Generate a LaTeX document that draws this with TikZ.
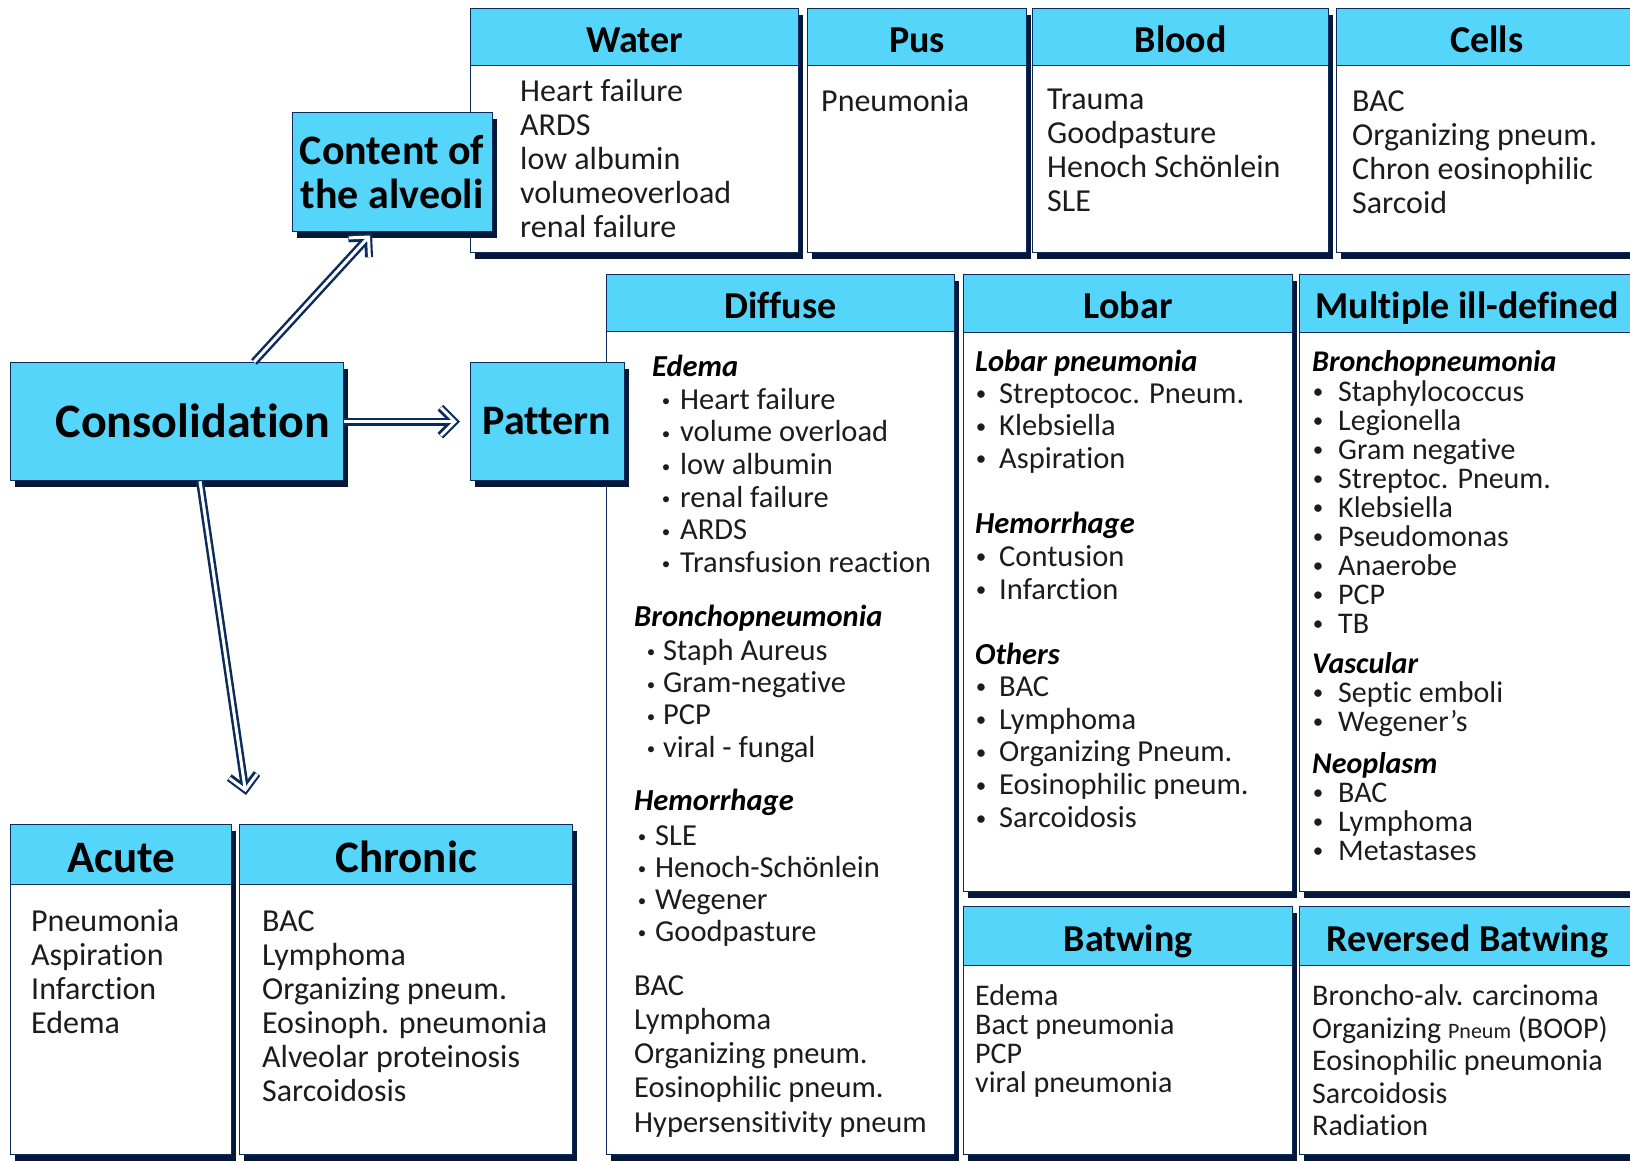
\documentclass[tikz,border=0pt]{standalone}
\usepackage{fontspec}
\setmainfont{Carlito}[Ligatures=NoCommon]
\usetikzlibrary{arrows.meta,shadows,calc}
\definecolor{hdcol}{HTML}{55D5FA}
\definecolor{navy}{HTML}{0B2B5C}
\definecolor{shd}{HTML}{06183A}
\definecolor{txt}{HTML}{1C1C1C}
\tikzset{
 panel/.style={draw=navy, line width=1.3pt, fill=white, anchor=north west, inner sep=0pt,
   drop shadow={shadow xshift=4pt, shadow yshift=-6pt, fill=shd, opacity=1}},
 head/.style={draw=navy, line width=1.3pt, fill=hdcol, anchor=north west, inner sep=0pt,
   font=\bfseries\fontsize{38}{40}\selectfont, text=black, text height=33pt, text depth=2.6pt},
 bighead/.style={head, font=\bfseries\fontsize{45}{48}\selectfont, text height=40pt, text depth=3.8pt},
 tA/.style={anchor=mid west, inner sep=0pt, yshift=-8pt, text=txt, font=\fontsize{32}{34}\selectfont},
 tB/.style={anchor=mid west, inner sep=0pt, yshift=-8pt, text=txt, font=\fontsize{30.5}{32}\selectfont},
 tC/.style={anchor=mid west, inner sep=0pt, yshift=-8pt, text=txt, font=\fontsize{30}{32}\selectfont},
 hB/.style={tB, text=black, font=\bfseries\itshape\fontsize{30.5}{32}\selectfont},
 hC/.style={tC, text=black, font=\bfseries\itshape\fontsize{30}{32}\selectfont},
 bulS/.style={anchor=mid, inner sep=0pt, yshift=-5.5pt, text=txt, font=\fontsize{17}{17}\selectfont},
 bulL/.style={anchor=mid, inner sep=0pt, yshift=-5.5pt, text=txt, font=\fontsize{21}{21}\selectfont},
 arrO/.style={draw=navy, line width=8pt, -{Straight Barb[length=14pt,width=28pt]}},
 arrI/.style={draw=white, line width=3pt, shorten >=3pt, -{Straight Barb[length=14pt,width=28pt]}},
}
\begin{document}
\begin{tikzpicture}[x=1pt,y=-1pt]
\useasboundingbox (0,0) rectangle (1630,1161);

% ---------- top row ----------
\node[panel, minimum width=328pt, minimum height=244pt] (water) at (470,8) {};
\node[head, minimum width=328pt, minimum height=57pt] (waterh) at (470,8) {Water};
\node[panel, minimum width=219pt, minimum height=244pt] (pus) at (807,8) {};
\node[head, minimum width=219pt, minimum height=57pt] (push) at (807,8) {Pus};
\node[panel, minimum width=296pt, minimum height=244pt] (blood) at (1032,8) {};
\node[head, minimum width=296pt, minimum height=57pt] (bloodh) at (1032,8) {Blood};
\node[panel, minimum width=300pt, minimum height=244pt] (cells) at (1336,8) {};
\node[head, minimum width=300pt, minimum height=57pt] (cellsh) at (1336,8) {Cells};

\foreach \t [count=\i from 0] in {Heart failure, ARDS, low albumin, volumeoverload, renal failure}
  \node[tA] (wa\i) at (520,{91+34*\i}) {\t};
\node[tA] (pu0) at (821,101) {Pneumonia};
\foreach \t [count=\i from 0] in {Trauma, Goodpasture, Henoch Schönlein, SLE}
  \node[tA] (bl\i) at (1047,{99+34*\i}) {\t};
\foreach \t [count=\i from 0] in {BAC, Organizing pneum., Chron eosinophilic, Sarcoid}
  \node[tA] (ce\i) at (1352,{101+34*\i}) {\t};

% ---------- Content / Consolidation ----------
\node[panel, fill=hdcol, minimum width=200pt, minimum height=119pt] (content) at (292,112) {};
\node[align=center, font=\bfseries\fontsize{42}{44}\selectfont] (contentlbl) at (392,172) {Content of\\the alveoli};
\node[panel, fill=hdcol, minimum width=333pt, minimum height=118pt] (cons) at (10,362) {};
\node[font=\bfseries\fontsize{48}{50}\selectfont] (conslbl) at (193,421) {Consolidation};

% ---------- Diffuse ----------
\node[panel, minimum width=348pt, minimum height=880pt] (diff) at (606,274) {};
\node[head, minimum width=348pt, minimum height=57pt] (diffh) at (606,274) {Diffuse};
\node[hB] (de) at (652,366) {Edema};
\foreach \t [count=\i from 0] in {Heart failure, volume overload, low albumin, renal failure, ARDS, Transfusion reaction}{
  \node[bulS] (deb\i) at (666,{399+32.6*\i}) {•};
  \node[tB] (det\i) at (680,{399+32.6*\i}) {\t};}
\node[hB] (dbr) at (634,616) {Bronchopneumonia};
\foreach \t [count=\i from 0] in {Staph Aureus, Gram-negative, PCP, viral - fungal}{
  \node[bulS] (dbb\i) at (651,{650+32.3*\i}) {•};
  \node[tB] (dbt\i) at (663,{650+32.3*\i}) {\t};}
\node[hB] (dhe) at (634,800) {Hemorrhage};
\foreach \t [count=\i from 0] in {SLE, Henoch-Schönlein, Wegener, Goodpasture}{
  \node[bulS] (dhb\i) at (642,{835+32*\i}) {•};
  \node[tB] (dht\i) at (655,{835+32*\i}) {\t};}
\foreach \t [count=\i from 0] in {BAC, Lymphoma, Organizing pneum., Eosinophilic pneum., Hypersensitivity pneum}
  \node[tB] (dot\i) at (634,{985+34.2*\i}) {\t};

% ---------- Pattern (on top of Diffuse) ----------
\node[panel, fill=hdcol, minimum width=154pt, minimum height=118pt] (pattern) at (470,362) {};
\node[font=\bfseries\fontsize{42}{44}\selectfont] (patternlbl) at (547,421) {Pattern};

% ---------- Lobar ----------
\node[panel, minimum width=329pt, minimum height=617pt] (lob) at (963,274) {};
\node[head, minimum width=329pt, minimum height=58pt] (lobh) at (963,274) {Lobar};
\node[hB] (lp) at (975,361) {Lobar pneumonia};
\foreach \t [count=\i from 0] in {Streptococ. Pneum., Klebsiella, Aspiration}{
  \node[bulL] (lpb\i) at (981,{393+32.5*\i}) {•};
  \node[tB] (lpt\i) at (999,{393+32.5*\i}) {\t};}
\node[hB] (lh) at (975,523) {Hemorrhage};
\foreach \t [count=\i from 0] in {Contusion, Infarction}{
  \node[bulL] (lhb\i) at (981,{556+33*\i}) {•};
  \node[tB] (lht\i) at (999,{556+33*\i}) {\t};}
\node[hB] (lo) at (975,654) {Others};
\foreach \t [count=\i from 0] in {BAC, Lymphoma, Organizing Pneum., Eosinophilic pneum., Sarcoidosis}{
  \node[bulL] (lob\i) at (981,{686+32.8*\i}) {•};
  \node[tB] (lot\i) at (999,{686+32.8*\i}) {\t};}

% ---------- Multiple ill-defined ----------
\node[panel, minimum width=335pt, minimum height=617pt] (mul) at (1299,274) {};
\node[head, minimum width=335pt, minimum height=58pt] (mulh) at (1299,274) {Multiple ill-defined};
\node[hC] (mb) at (1312,361) {Bronchopneumonia};
\foreach \t [count=\i from 0] in {Staphylococcus, Legionella, Gram negative, Streptoc. Pneum., Klebsiella, Pseudomonas, Anaerobe, PCP, TB}{
  \node[bulL] (mbb\i) at (1318,{391+29*\i}) {•};
  \node[tC] (mbt\i) at (1338,{391+29*\i}) {\t};}
\node[hC] (mv) at (1312,663) {Vascular};
\foreach \t [count=\i from 0] in {Septic emboli, Wegener's}{
  \node[bulL] (mvb\i) at (1318,{692+29*\i}) {•};
  \node[tC] (mvt\i) at (1338,{692+29*\i}) {\t};}
\node[hC] (mn) at (1312,763) {Neoplasm};
\foreach \t [count=\i from 0] in {BAC, Lymphoma, Metastases}{
  \node[bulL] (mnb\i) at (1318,{792+29*\i}) {•};
  \node[tC] (mnt\i) at (1338,{792+29*\i}) {\t};}

% ---------- Batwing / Reversed ----------
\node[panel, minimum width=329pt, minimum height=248pt] (bat) at (963,906) {};
\node[head, minimum width=329pt, minimum height=59pt] (bath) at (963,906) {Batwing};
\foreach \t [count=\i from 0] in {Edema, Bact pneumonia, PCP, viral pneumonia}
  \node[tC] (bt\i) at (975,{995+29*\i}) {\t};
\node[panel, minimum width=335pt, minimum height=248pt] (rbat) at (1299,906) {};
\node[head, minimum width=335pt, minimum height=59pt] (rbath) at (1299,906) {Reversed Batwing};
\node[tC] (rb0) at (1312,995) {Broncho-alv. carcinoma};
\node[tC] (rb1) at (1312,1028) {Organizing {\fontsize{22}{22}\selectfont Pneum} (BOOP)};
\node[tC] (rb2) at (1312,1060) {Eosinophilic pneumonia};
\node[tC] (rb3) at (1312,1093) {Sarcoidosis};
\node[tC] (rb4) at (1312,1125) {Radiation};

% ---------- Acute / Chronic ----------
\node[panel, minimum width=221pt, minimum height=330pt] (acute) at (10,824) {};
\node[bighead, minimum width=221pt, minimum height=60pt] (acuteh) at (10,824) {Acute};
\foreach \t [count=\i from 0] in {Pneumonia, Aspiration, Infarction, Edema}
  \node[tA] (ac\i) at (31,{921+34*\i}) {\t};
\node[panel, minimum width=333pt, minimum height=330pt] (chron) at (239,824) {};
\node[bighead, minimum width=333pt, minimum height=60pt] (chronh) at (239,824) {Chronic};
\foreach \t [count=\i from 0] in {BAC, Lymphoma, Organizing pneum., Eosinoph. pneumonia, Alveolar proteinosis, Sarcoidosis}
  \node[tA] (ch\i) at (262,{921+34*\i}) {\t};

% ---------- arrows ----------
\coordinate (a1s) at ($(cons.north west)+(244,0)$);
\coordinate (a1e) at ($(content.south west)+(80,1)$);
\coordinate (a2s) at (cons.east);
\coordinate (a2e) at ($(pattern.west)+(-10,0)$);
\coordinate (a3s) at ($(cons.south west)+(190,0)$);
\coordinate (a3e) at ($(acute.north west)+(236,-29)$);
\foreach \s/\e in {a1s/a1e, a2s/a2e, a3s/a3e}{
  \draw[arrO] (\s) -- (\e);
  \draw[arrI] (\s) -- (\e);}
\end{tikzpicture}
\end{document}
